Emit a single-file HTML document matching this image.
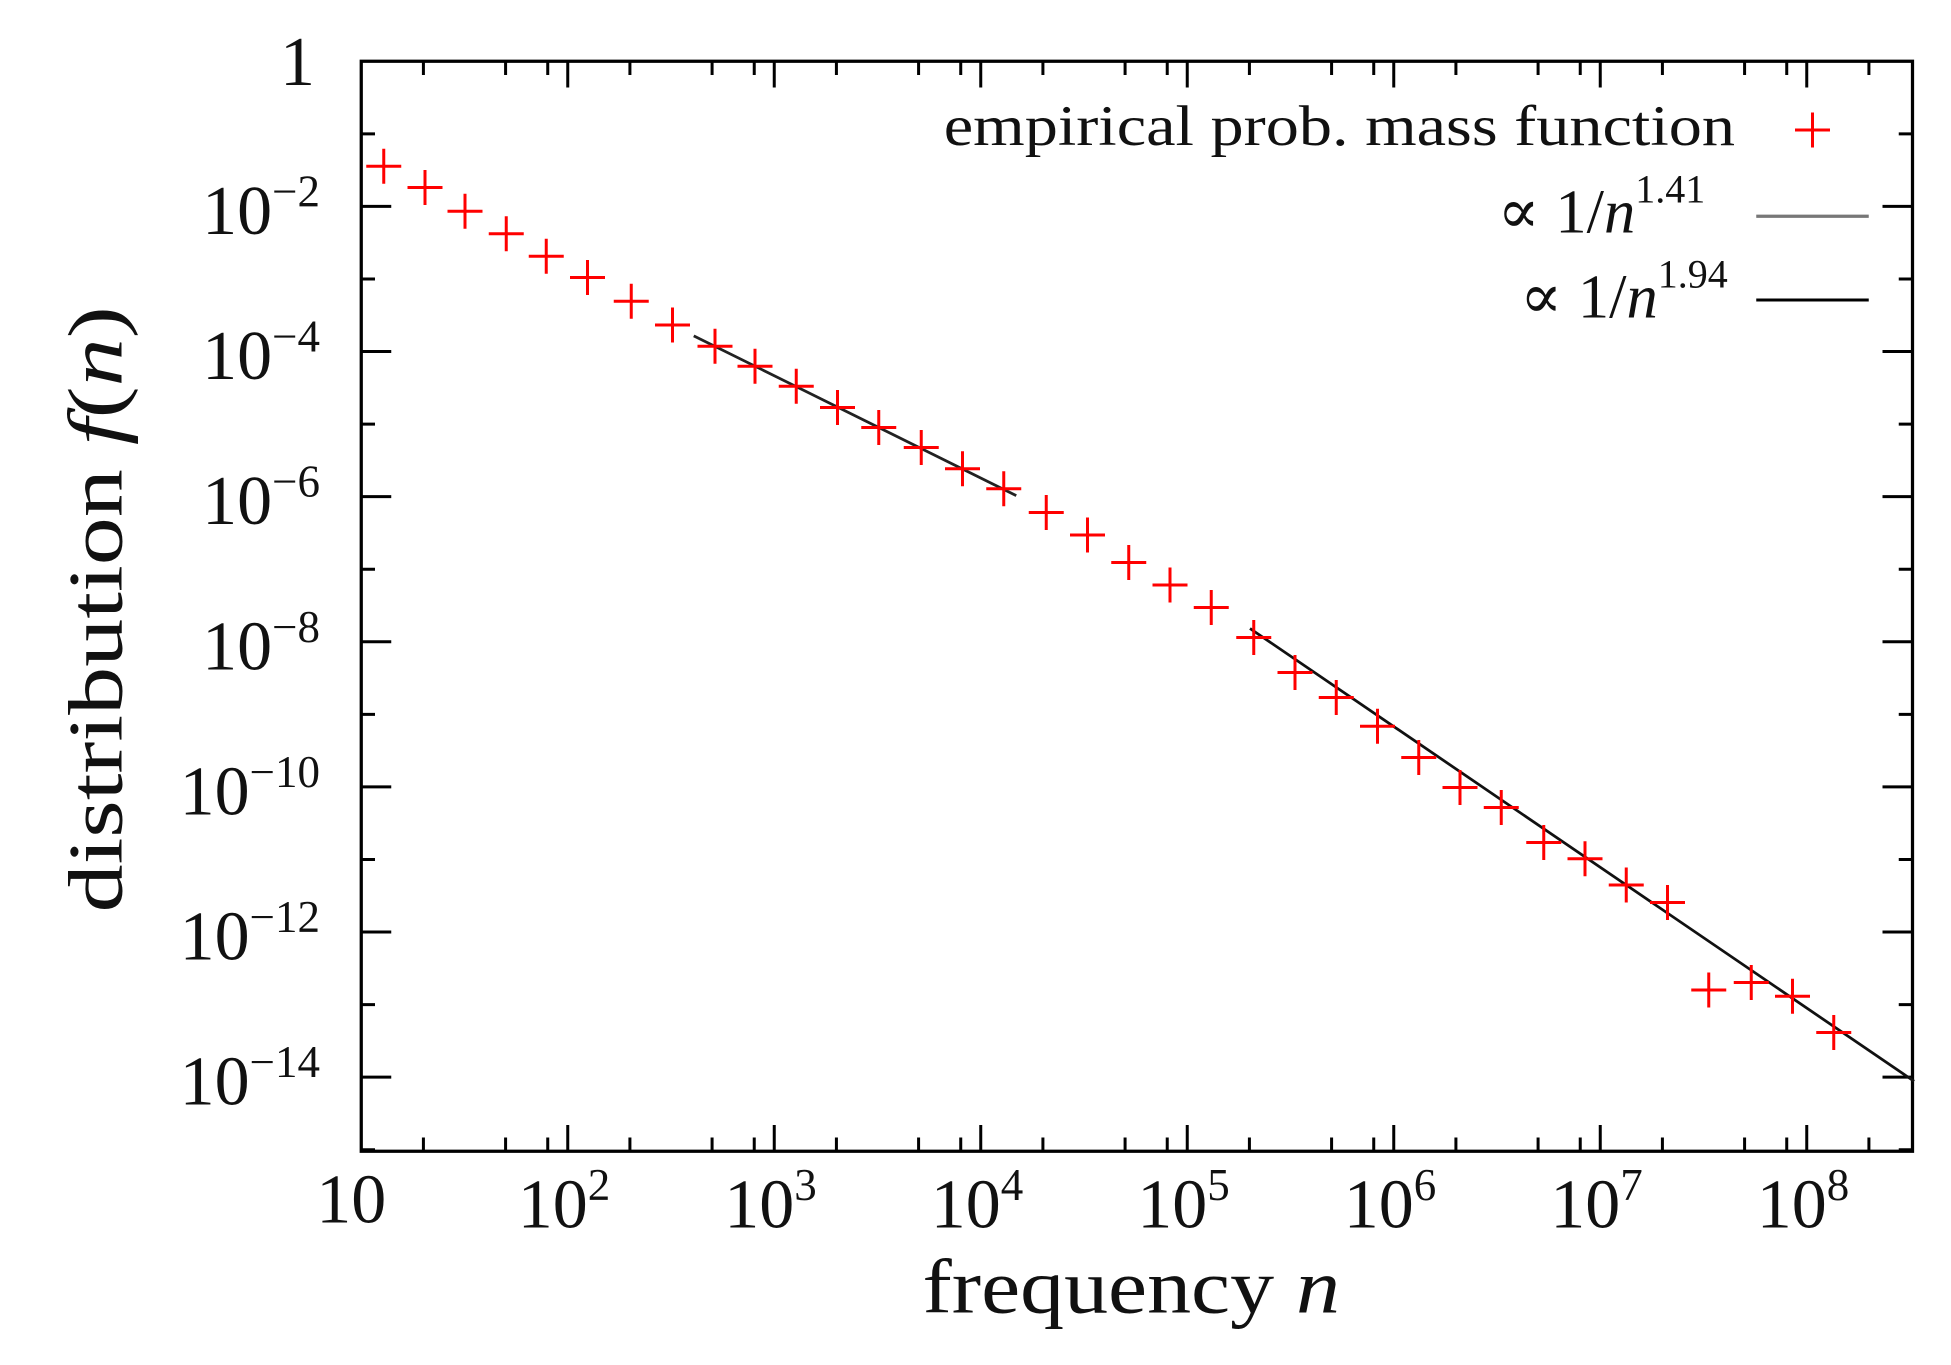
<!DOCTYPE html>
<html><head><meta charset="utf-8"><style>
html,body{margin:0;padding:0;background:#fff;}
svg{display:block;}
text{font-family:"Liberation Serif","DejaVu Serif",serif;fill:#111;}
</style></head><body>
<svg width="1951" height="1365" viewBox="0 0 1560.8 1092" xmlns="http://www.w3.org/2000/svg">
<g id="ticks" stroke="#000" stroke-width="2.4" fill="none"></g>
<rect x="289" y="49" width="1241" height="872" fill="none" stroke="#000" stroke-width="2.6"/>
<g id="labels"></g>
<g id="lines"></g>
<g id="pts" stroke="#ff0000" stroke-width="2.4"></g>
<text x="755" y="116" font-size="46" textLength="633" lengthAdjust="spacingAndGlyphs">empirical prob. mass function</text>
<path d="M1436 104h28M1450 90v28" stroke="#ff0000" stroke-width="2.4"/>
<text x="1198" y="186" font-size="50">∝ 1/<tspan font-style="italic">n</tspan><tspan font-size="32" dy="-24">1.41</tspan></text>
<line x1="1405" y1="173" x2="1495" y2="173" stroke="#777" stroke-width="2.6"/>
<text x="1216" y="254" font-size="50">∝ 1/<tspan font-style="italic">n</tspan><tspan font-size="32" dy="-24">1.94</tspan></text>
<line x1="1405" y1="240" x2="1495" y2="240" stroke="#000" stroke-width="2.4"/>
<text x="738" y="1050" font-size="62" textLength="334" lengthAdjust="spacingAndGlyphs">frequency <tspan font-style="italic">n</tspan></text>
<text transform="translate(97,730) rotate(-90)" font-size="62" textLength="485" lengthAdjust="spacingAndGlyphs">distribution <tspan font-style="italic">f</tspan>(<tspan font-style="italic">n</tspan>)</text>
</svg>
<script>
const NS="http://www.w3.org/2000/svg";
const L=289,R=1530,T=49,B=921,DX=165.2,DY=58.05;
const X=l=>L+(l-1)*DX, Y=l=>T-l*DY;
function el(p,t,a,txt){const e=document.createElementNS(NS,t);for(const k in a)e.setAttribute(k,a[k]);if(txt!=null)e.textContent=txt;document.getElementById(p).appendChild(e);return e;}
let d="";
for(let dec=1;dec<=8;dec++){
  for(const m of [1,2,5,8]){
    const l=dec+Math.log10(m); if(l<=1||l>=8.52)continue;
    const x=X(l),len=m==1?21:11;
    d+=`M${x} ${B}v${-len}M${x} ${T}v${len}`;
  }
}
for(let e=0;e>=-15;e--){
  const y=Y(e); if(y<=T+0.5||y>=B)continue;
  const len=(e%2==0)?24:11;
  d+=`M${L} ${y}h${len}M${R} ${y}h${-len}`;
}
el("ticks","path",{d});
for(let e=0;e>=-14;e-=2){
  const y=Y(e)+22;
  if(e==0){el("labels","text",{x:252,y:68,"font-size":56,"text-anchor":"end"},"1");continue;}
  const t=el("labels","text",{x:256,y:y,"font-size":56,"text-anchor":"end"});
  const a=document.createElementNS(NS,"tspan");a.textContent="10";t.appendChild(a);
  const b=document.createElementNS(NS,"tspan");b.setAttribute("font-size","36");b.setAttribute("dy","-22");b.textContent="−"+(-e);t.appendChild(b);
}
el("labels","text",{x:X(1)-8,y:978,"font-size":56,"text-anchor":"middle"},"10");
for(let e=2;e<=8;e++){
  const x=X(e);
  el("labels","text",{x:x-12,y:982,"font-size":56,"text-anchor":"middle"},"10");
  el("labels","text",{x:x+16,y:960,"font-size":36},String(e));
}
function fit(l1,l2,x0,y0,s,col){
  const lx0=1+(x0-L)/DX, ly0=-(y0-T)/DY;
  const f=l=>ly0-s*(l-lx0);
  el("lines","line",{x1:X(l1),y1:Y(f(l1)),x2:X(l2),y2:Y(f(l2)),stroke:col,"stroke-width":2.2});
}
fit(1+(555-L)/DX,1+(813-L)/DX,703,342,1.41,"#222");
fit(1+(1000-L)/DX,8.52,1301,708,1.94,"#111");
const P=[[307,133],[340,150],[372,169],[405,187],[437,205],[470,222],[505,241],[538,260],[572,277],[604,293],[637,309],[670,326],[703,342],[737,358],[770,375],[803,391],[837,410],[870,428],[903,450],[936,468],[969,486],[1003,510],[1036,538],[1069,558],[1102,581],[1135,606],[1168,630],[1201,646],[1235,674],[1268,687],[1301,708],[1334,722],[1367,792],[1401,786],[1434,797],[1467,826]];
let pd="";for(const [x,y] of P)pd+=`M${x-14} ${y}h28M${x} ${y-14}v28`;
el("pts","path",{d:pd});
</script>
</body></html>
